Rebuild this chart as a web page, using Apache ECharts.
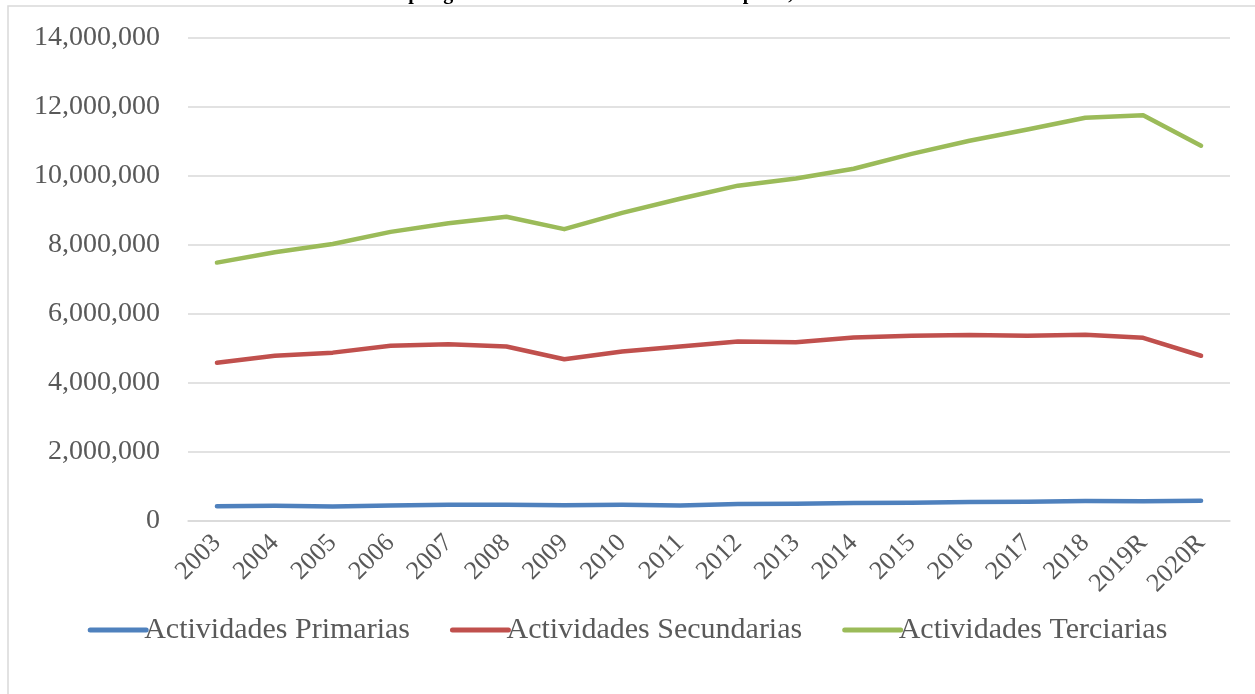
<!DOCTYPE html>
<html>
<head>
<meta charset="utf-8">
<script src="https://cdn.jsdelivr.net/npm/echarts@6/dist/echarts.min.js"></script>
<style>
  html, body { margin: 0; padding: 0; background: #ffffff; }
  #chart { width: 1255px; height: 694px; }
</style>
</head>
<body>
<div id="chart"></div>
<script>
// Años (categorías del eje X)
const years = ["2003", "2004", "2005", "2006", "2007", "2008", "2009", "2010", "2011",
  "2012", "2013", "2014", "2015", "2016", "2017", "2018", "2019R", "2020R"];

// Valores
const primarias = [430000, 440000, 420000, 450000, 470000, 470000, 460000, 470000, 450000,
  490000, 500000, 520000, 530000, 550000, 560000, 580000, 575000, 585000];
const secundarias = [4590000, 4790000, 4880000, 5080000, 5120000, 5060000, 4690000, 4910000, 5060000,
  5200000, 5180000, 5320000, 5370000, 5390000, 5370000, 5400000, 5310000, 4790000];
const terciarias = [7490000, 7790000, 8030000, 8380000, 8630000, 8820000, 8460000, 8930000, 9340000,
  9720000, 9930000, 10210000, 10640000, 11020000, 11350000, 11690000, 11760000, 10880000];

const seriesNames = ["Actividades Primarias", "Actividades Secundarias", "Actividades Terciarias"];
const seriesColors = ["#4f81bd", "#c0504d", "#9bbb59"];

const chart = echarts.init(document.getElementById("chart"));
const font = "'Liberation Serif', 'DejaVu Serif', serif";
const textColor = "#595959";

function lineSeries(name, data, color) {
  return {
    name: name,
    type: "line",
    data: data,
    symbol: "none",
    color: color,
    lineStyle: { width: 4.5, color: color, cap: "round", join: "round" }
  };
}

chart.setOption({
  backgroundColor: "#ffffff",
  animation: false,
  title: {
    text: "PIB por grandes actividades en millones de pesos, 2003-2020",
    left: "center",
    top: -21,
    textStyle: { fontFamily: font, fontSize: 20, fontWeight: "bold", color: "#000000" }
  },
  graphic: [{
    type: "rect",
    shape: { x: 8, y: 6, width: 1300, height: 800 },
    style: { fill: "none", stroke: "#d9d9d9", lineWidth: 1.5 },
    silent: true
  }],
  grid: { left: 188, right: 25, top: 38, bottom: 173, containLabel: false },
  legend: {
    bottom: 44,
    left: "center",
    itemWidth: 56,
    itemHeight: 14,
    itemGap: 40,
    itemStyle: { opacity: 0 },
    lineStyle: { width: 5, cap: "round" },
    textStyle: { fontFamily: font, fontSize: 30, color: textColor, padding: [0, 0, 0, -7] },
    data: seriesNames
  },
  xAxis: {
    type: "category",
    data: years,
    boundaryGap: true,
    axisLine: { lineStyle: { color: "#d9d9d9", width: 1.5 } },
    axisTick: { show: false },
    axisLabel: {
      rotate: 45,
      interval: 0,
      margin: 18,
      fontFamily: font,
      fontSize: 26,
      color: textColor
    }
  },
  yAxis: {
    type: "value",
    min: 0,
    max: 14000000,
    interval: 2000000,
    axisLine: { show: false },
    axisTick: { show: false },
    splitLine: { lineStyle: { color: "#d9d9d9", width: 1.5 } },
    axisLabel: {
      margin: 28,
      fontFamily: font,
      fontSize: 28,
      color: textColor,
      formatter: v => v.toLocaleString("en-US")
    }
  },
  series: [
    lineSeries(seriesNames[0], primarias, seriesColors[0]),
    lineSeries(seriesNames[1], secundarias, seriesColors[1]),
    lineSeries(seriesNames[2], terciarias, seriesColors[2])
  ]
});
</script>
</body>
</html>
